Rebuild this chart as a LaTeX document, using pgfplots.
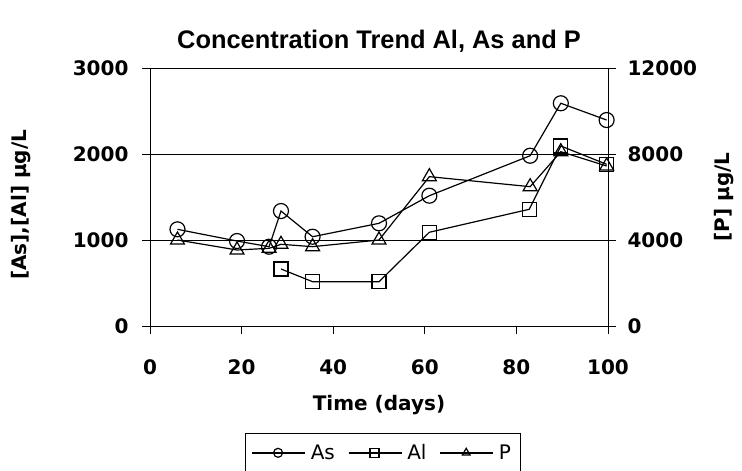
\documentclass[border=0pt]{standalone}
\usepackage{pgfplots}
\pgfplotsset{compat=1.18}
\usepackage{fontspec}
\setmainfont{Liberation Sans}
\newfontfamily\tickfont{DejaVu Sans}

\pgfplotsset{
  serie/.style={black, line width=1.2pt, mark options={solid, fill=none, line width=1.2pt}},
  twin/.style={
    at={(0,0)}, anchor=south west, scale only axis,
    width=458pt, height=258pt,
    xmin=0, xmax=100,
    tick align=outside, major tick length=8pt,
    tick style={black, line width=0.8pt},
    axis line style={line width=0.8pt},
    ticklabel style={font=\tickfont\bfseries\fontsize{20}{20}\selectfont},
    /pgf/number format/assume math mode=true,
    /pgf/number format/1000 sep={},
    scaled y ticks=false,
  },
}

\begin{document}
\begin{tikzpicture}[x=1pt,y=1pt]
\useasboundingbox (-150,-145) rectangle (592,326);
\begin{axis}[
  twin,
  ymin=0, ymax=3000,
  xtick={0,20,...,100}, ytick={0,1000,2000,3000},
  axis y line*=left, axis x line*=bottom,
  ymajorgrids, grid style={black, line width=0.8pt},
  xticklabel style={yshift=-22pt},
  yticklabel style={xshift=-10pt},
  title={Concentration Trend Al, As and P},
  title style={font=\bfseries\fontsize{25.4}{25}\selectfont, at={(axis description cs:0.5,1.08)}, anchor=center},
  xlabel={Time (days)},
  xlabel style={font=\tickfont\bfseries\fontsize{20}{20}\selectfont, at={(axis description cs:0.5,-0.306)}, anchor=center},
  ylabel={[As],[Al] µg/L},
  ylabel style={font=\tickfont\bfseries\fontsize{20}{20}\selectfont, at={(axis description cs:-0.282,0.47)}, anchor=center},
  legend style={at={(axis description cs:0.508,-0.415)}, anchor=north, legend columns=-1, draw=black, line width=0.8pt,
    font=\tickfont\fontsize{20}{20}\selectfont, inner xsep=6pt, inner ysep=9pt,
    nodes={inner xsep=3pt},
    /tikz/every odd column/.append style={column sep=2pt},
    /tikz/every even column/.append style={column sep=10pt}},
  legend image code/.code={\draw[line width=1.4pt, mark repeat=2,mark phase=2, mark size=4.5pt] plot coordinates {(0pt,0pt) (26pt,0pt) (53pt,0pt)};},
]
\addplot[serie, mark=o, mark size=7.5pt] coordinates {
  (6,1124) (19,988) (26,922) (28.6,1337) (35.5,1038) (50,1194)
  (61,1515) (83,1980) (89.7,2590) (99.7,2395)};
\addlegendentry{As}
\addplot[serie, mark=square, mark size=7pt] coordinates {
  (28.6,663) (35.5,515) (50,515) (61,1090) (82.8,1357) (89.7,2093) (99.7,1880)};
\addlegendentry{Al}
\addlegendimage{serie, mark=triangle}
\addlegendentry{P}
\end{axis}
\begin{axis}[
  twin,
  ymin=0, ymax=12000,
  ytick={0,4000,8000,12000},
  axis y line*=right, hide x axis,
  yticklabel style={xshift=8pt},
  ylabel={[P] µg/L},
  ylabel style={font=\tickfont\bfseries\fontsize{20}{20}\selectfont, at={(axis description cs:1.253,0.5)}, anchor=center},
]
\addplot[serie, mark=triangle, mark size=8pt] coordinates {
  (6,4000) (19,3535) (26,3614) (28.6,3800) (35.5,3690) (50,4000)
  (61,6946) (83,6480) (89.7,8107) (99.7,7442)};
\end{axis}
\end{tikzpicture}
\end{document}
